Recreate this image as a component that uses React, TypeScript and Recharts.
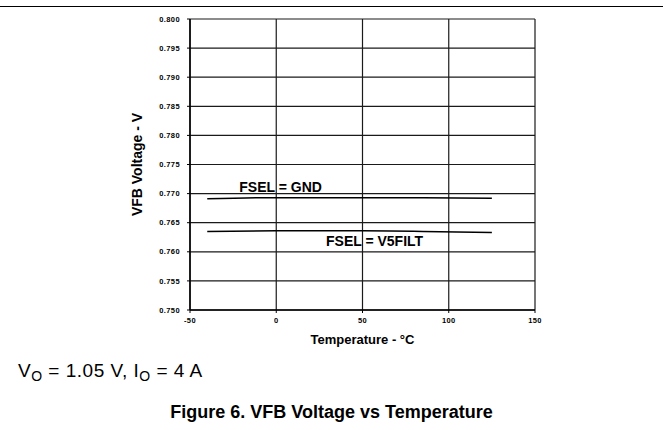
import * as React from "react";
import {
  LineChart,
  Line,
  XAxis,
  YAxis,
  CartesianGrid,
  ReferenceDot,
  Label,
} from "recharts";

const temps = [-40, 0, 25, 50, 85, 125];
const gndVolts = [0.7691, 0.7693, 0.7693, 0.7693, 0.7693, 0.7692];
const v5filtVolts = [0.7635, 0.7636, 0.7636, 0.7636, 0.7635, 0.7633];

const xTicks = [-50, 0, 50, 100, 150];
const yTicks = [0.75, 0.755, 0.76, 0.765, 0.77, 0.775, 0.78, 0.785, 0.79, 0.795, 0.8];

const seriesLabels = [
  { text: "FSEL = GND", x: 2.5, y: 0.7712 },
  { text: "FSEL = V5FILT", x: 57, y: 0.7619 },
];

const data = temps.map((t, i) => ({ t, gnd: gndVolts[i], v5: v5filtVolts[i] }));

const FONT = "'Liberation Sans', Arial, sans-serif";
const tickStyle = { fontSize: 7.5, fontWeight: 700, fill: "#000", fontFamily: FONT, letterSpacing: 0.4 };

export default function App() {
  return (
    <div style={{ position: "absolute", left: 0, top: 0, width: 663, height: 430, background: "#fff", fontFamily: FONT }}>
      <div style={{ position: "absolute", left: 0, top: 6, width: 663, height: 0, borderTop: "1.5px solid #000" }} />
      <LineChart
        width={663}
        height={430}
        data={data}
        margin={{ top: 19, right: 128, left: 130, bottom: 84 }}
      >
        <CartesianGrid stroke="#1a1a1a" strokeWidth={1.2} />
        <XAxis
          dataKey="t"
          type="number"
          domain={[-50, 150]}
          ticks={xTicks}
          height={36}
          tickSize={3}
          tickMargin={5}
          tick={tickStyle}
          axisLine={{ stroke: "#000", strokeWidth: 1.5 }}
          tickLine={{ stroke: "#000" }}
        >
          <Label
            value="Temperature - °C"
            position="insideBottom"
            offset={2}
            style={{ fontSize: 13, fontWeight: 700, fill: "#000", fontFamily: FONT }}
          />
        </XAxis>
        <YAxis
          type="number"
          domain={[0.75, 0.8]}
          ticks={yTicks}
          width={60}
          tickSize={3}
          tickMargin={7}
          tick={tickStyle}
          tickFormatter={(v: number) => v.toFixed(3)}
          axisLine={{ stroke: "#000", strokeWidth: 1.5 }}
          tickLine={{ stroke: "#000" }}
        >
          <Label
            value="VFB Voltage - V"
            angle={-90}
            position="center"
            dx={-23}
            style={{ fontSize: 14, fontWeight: 700, fill: "#000", fontFamily: FONT, textAnchor: "middle" }}
          />
        </YAxis>
        <Line
          dataKey="gnd"
          type="monotone"
          stroke="#000"
          strokeWidth={1.5}
          dot={false}
          isAnimationActive={false}
        />
        <Line
          dataKey="v5"
          type="monotone"
          stroke="#000"
          strokeWidth={1.5}
          dot={false}
          isAnimationActive={false}
        />
        {seriesLabels.map((l) => (
          <ReferenceDot key={l.text} x={l.x} y={l.y} r={0} stroke="none" fill="none">
            <Label
              value={l.text}
              position="center"
              style={{ fontSize: 14, fontWeight: 700, fill: "#000", fontFamily: FONT }}
            />
          </ReferenceDot>
        ))}
      </LineChart>
      <div style={{ position: "absolute", left: 18, top: 360, fontSize: 19, letterSpacing: 0.5, color: "#000", whiteSpace: "nowrap" }}>
        V<sub style={{ fontSize: 14, verticalAlign: -4 }}>O</sub> = 1.05 V, I<sub style={{ fontSize: 14, verticalAlign: -4 }}>O</sub> = 4 A
      </div>
      <div style={{ position: "absolute", left: 0, width: 663, top: 402, textAlign: "center", fontSize: 18, fontWeight: 700, color: "#000" }}>
        Figure 6. VFB Voltage vs Temperature
      </div>
    </div>
  );
}
